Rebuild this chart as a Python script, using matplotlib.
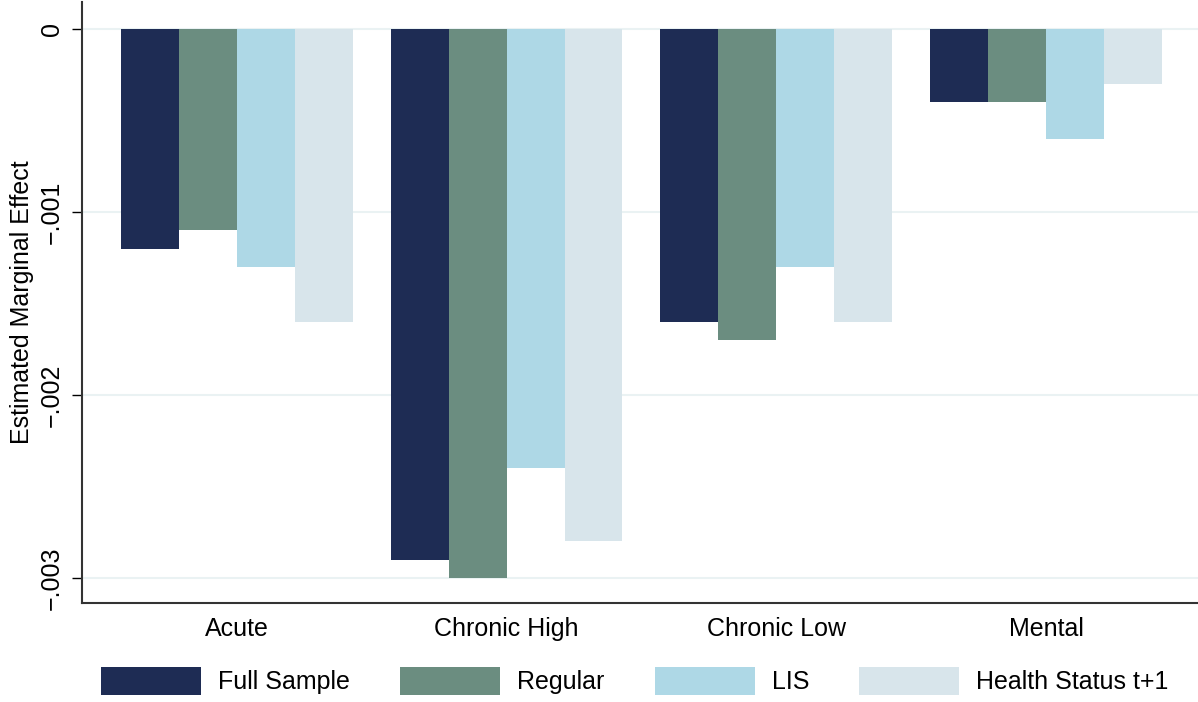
import numpy as np
import matplotlib.pyplot as plt
from matplotlib.patches import Patch

plt.rcParams['font.family'] = ['Liberation Sans', 'DejaVu Sans']

categories = ["Acute", "Chronic High", "Chronic Low", "Mental"]
series = ["Full Sample", "Regular", "LIS", "Health Status t+1"]
full_sample = [-0.0012, -0.0029, -0.0016, -0.0004]
regular = [-0.0011, -0.0030, -0.0017, -0.0004]
lis = [-0.0013, -0.0024, -0.0013, -0.0006]
health_t1 = [-0.0016, -0.0028, -0.0016, -0.0003]
colors = ["#1e2c54", "#6b8d80", "#aed8e6", "#d8e5eb"]

fig = plt.figure(figsize=(11.98, 7.02), dpi=100)
ax = fig.add_axes([0.0684, 0.141, 0.9316, 0.856])

x = np.arange(len(categories))
w = 0.2148
for i, vals in enumerate([full_sample, regular, lis, health_t1]):
    ax.bar(x + (i - 1.5) * w, vals, width=w, color=colors[i], zorder=2, linewidth=0)

ax.set_xlim(-0.574, 3.563)
ax.set_ylim(-0.003137, 0.000148)
ax.set_yticks([0, -0.001, -0.002, -0.003])
ax.set_yticklabels(["0", "\u2212.001", "\u2212.002", "\u2212.003"], rotation=90, va='center')
ax.set_xticks(x)
ax.set_xticklabels(categories)
ax.tick_params(axis='x', length=0, pad=10, labelsize=18)
ax.tick_params(axis='y', length=7, width=1, labelsize=18, pad=6)
ax.grid(axis='y', color="#eaf2f3", linewidth=1.5, zorder=0)
ax.set_axisbelow(True)
for s in ['top', 'right']:
    ax.spines[s].set_visible(False)
for s in ['left', 'bottom']:
    ax.spines[s].set_linewidth(1.5)
    ax.spines[s].set_color("#333333")
ax.set_ylabel("Estimated Marginal Effect", fontsize=18, labelpad=4)

handles = [Patch(facecolor=c, edgecolor='none') for c in colors]
fig.legend(handles, series, loc='center', bbox_to_anchor=(635 / 1198, 1 - 681 / 702),
           ncol=4, frameon=False, fontsize=18, handlelength=4, handleheight=1.3,
           handletextpad=0.68, columnspacing=2.0)

plt.savefig("out.png", dpi=100)
